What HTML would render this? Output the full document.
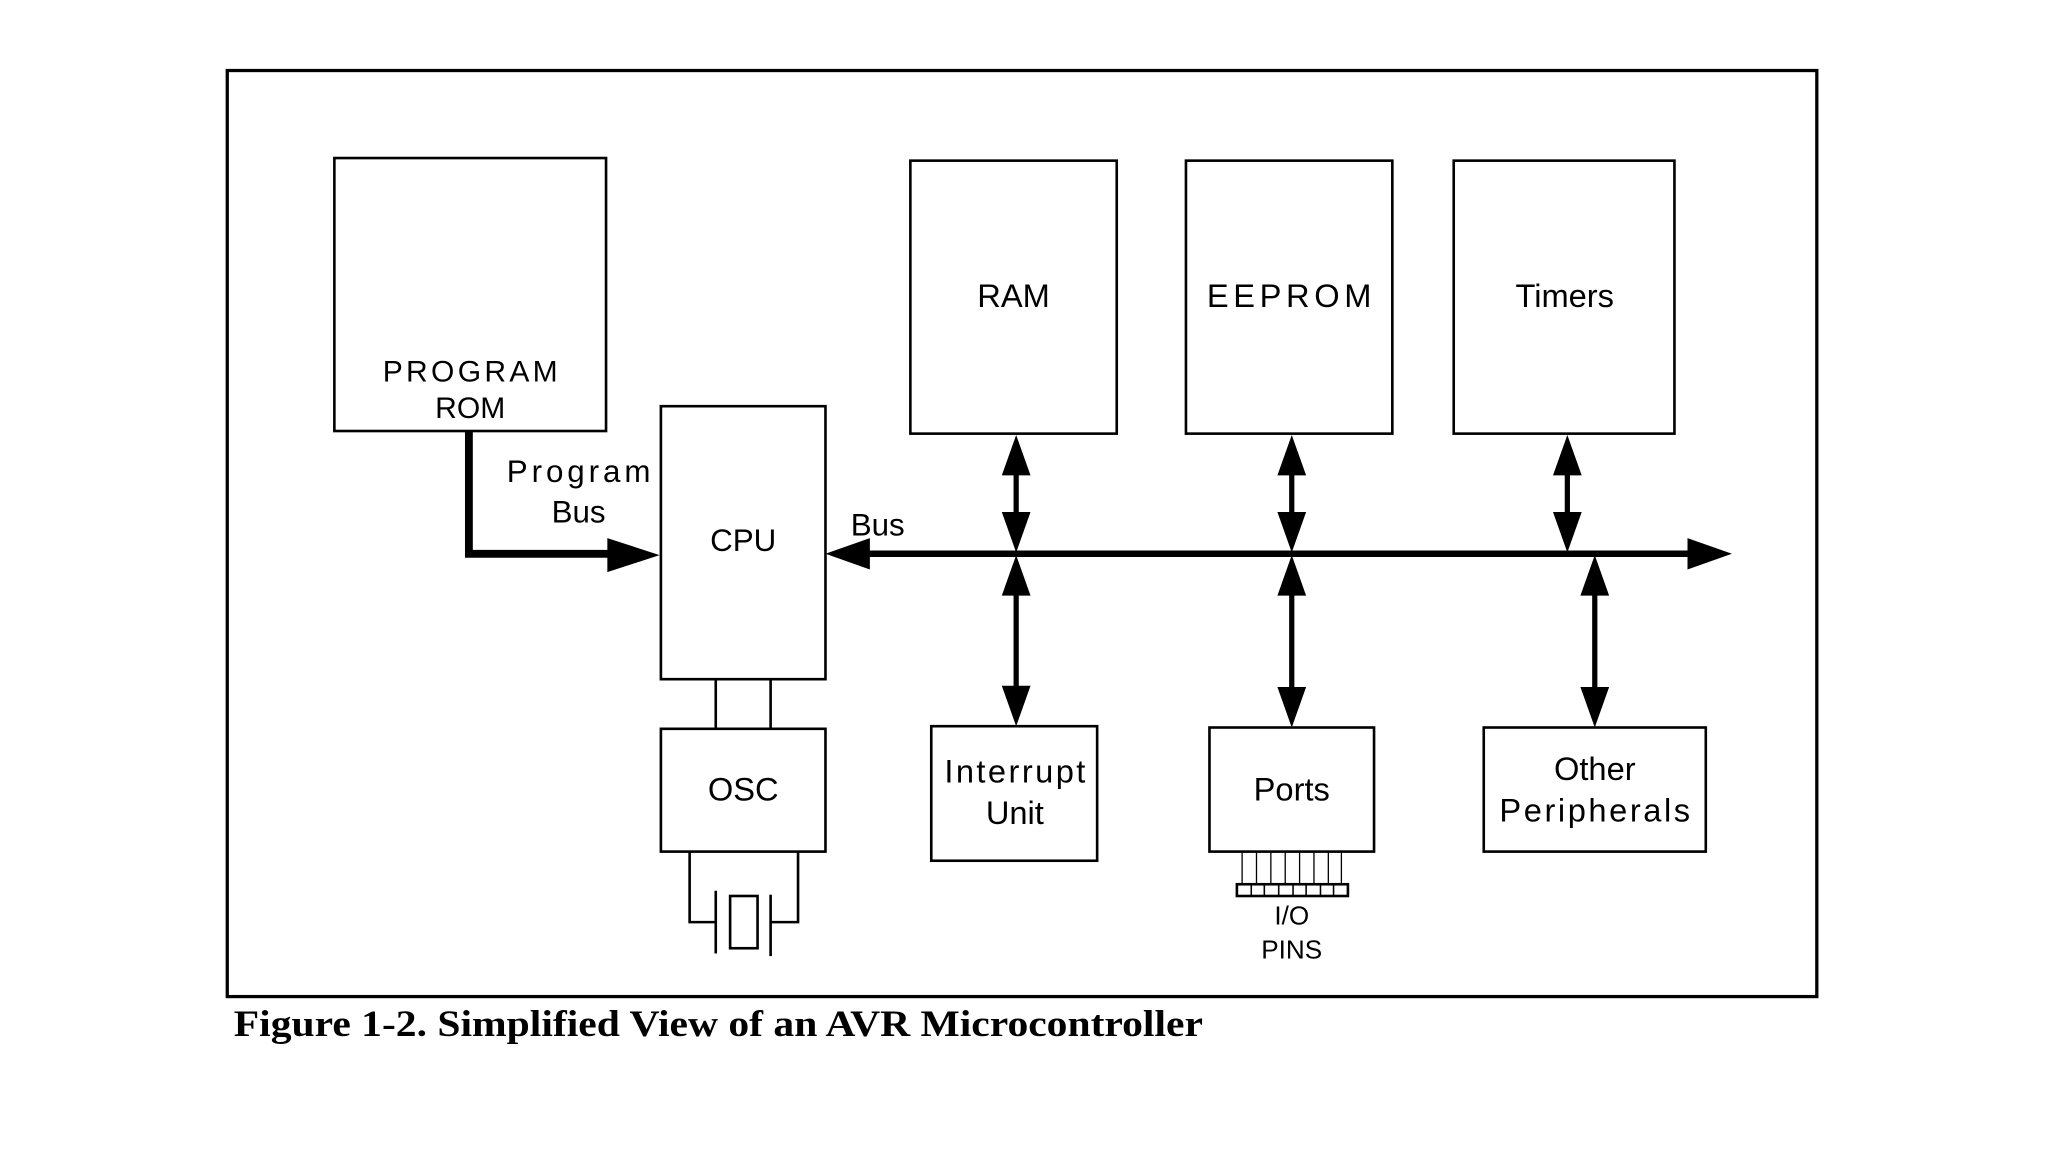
<!DOCTYPE html>
<html><head><meta charset="utf-8"><style>
html,body{margin:0;padding:0;background:#fff;}
svg{display:block;}
text{font-family:"Liberation Sans",sans-serif;fill:#000;}
</style></head><body>
<svg width="2048" height="1152" viewBox="0 0 1568 882" preserveAspectRatio="none" xmlns="http://www.w3.org/2000/svg">
<rect x="0" y="0" width="1568" height="882" fill="#fff"/>
<g fill="none" stroke="#000" stroke-width="2">
<rect x="174" y="54" width="1217" height="709" stroke-width="2.5"/>
<rect x="256" y="121" width="208" height="209"/>
<rect x="506" y="311" width="126" height="209"/>
<rect x="697" y="123" width="158" height="209"/>
<rect x="908" y="123" width="158" height="209"/>
<rect x="1113" y="123" width="169" height="209"/>
<rect x="506" y="558" width="126" height="94"/>
<rect x="713" y="556" width="127" height="103"/>
<rect x="926" y="557" width="126" height="95"/>
<rect x="1136" y="557" width="170" height="95"/>
<line x1="548" y1="520" x2="548" y2="558"/>
<line x1="590" y1="520" x2="590" y2="558"/>
<polyline points="528,652 528,706 548,706"/>
<polyline points="611,652 611,706 590,706"/>
<line x1="548" y1="682" x2="548" y2="730"/>
<line x1="590" y1="685" x2="590" y2="732"/>
<rect x="559" y="686" width="21" height="40"/>
<g stroke-width="1">
<line x1="951" y1="652" x2="951" y2="677"/><line x1="962" y1="652" x2="962" y2="677"/>
<line x1="973" y1="652" x2="973" y2="677"/><line x1="984" y1="652" x2="984" y2="677"/>
<line x1="995" y1="652" x2="995" y2="677"/><line x1="1006" y1="652" x2="1006" y2="677"/>
<line x1="1017" y1="652" x2="1017" y2="677"/><line x1="1027" y1="652" x2="1027" y2="677"/>
</g>
<rect x="947" y="677" width="85" height="9" stroke-width="2"/>
<g stroke-width="1.2">
<line x1="958" y1="677" x2="958" y2="686"/><line x1="968" y1="677" x2="968" y2="686"/>
<line x1="979" y1="677" x2="979" y2="686"/><line x1="990" y1="677" x2="990" y2="686"/>
<line x1="1000" y1="677" x2="1000" y2="686"/><line x1="1011" y1="677" x2="1011" y2="686"/>
<line x1="1021" y1="677" x2="1021" y2="686"/>
</g>
</g>
<g stroke="#000" fill="none">
<polyline points="359,330 359,424 470,424" stroke-width="6"/>
<line x1="660" y1="424" x2="1300" y2="424" stroke-width="5"/>
<g stroke-width="4">
<line x1="778" y1="355" x2="778" y2="400"/><line x1="778" y1="448" x2="778" y2="532"/>
<line x1="989" y1="355" x2="989" y2="400"/><line x1="989" y1="448" x2="989" y2="533"/>
<line x1="1200" y1="355" x2="1200" y2="400"/><line x1="1221" y1="448" x2="1221" y2="533"/>
</g>
</g>
<g fill="#000">
<polygon points="505,425 465,412 465,438"/>
<polygon points="632,424 666,412 666,436"/>
<polygon points="1326,424 1292,412 1292,436"/>
<polygon points="778,333 767,364 789,364"/><polygon points="778,423 767,392 789,392"/>
<polygon points="778,425 767,456 789,456"/><polygon points="778,556 767,525 789,525"/>
<polygon points="989,333 978,364 1000,364"/><polygon points="989,423 978,392 1000,392"/>
<polygon points="989,425 978,456 1000,456"/><polygon points="989,557 978,526 1000,526"/>
<polygon points="1200,333 1189,364 1211,364"/><polygon points="1200,423 1189,392 1211,392"/>
<polygon points="1221,425 1210,456 1232,456"/><polygon points="1221,557 1210,526 1232,526"/>
</g>
<g font-size="23" text-anchor="middle">
<text x="360" y="292" textLength="134">PROGRAM</text>
<text x="360" y="320">ROM</text>
<text x="443" y="369" font-size="24" textLength="110">Program</text>
<text x="443" y="400" font-size="24">Bus</text>
<text x="569" y="422" font-size="24">CPU</text>
<text x="672" y="410" font-size="24">Bus</text>
<text x="776" y="235" font-size="25">RAM</text>
<text x="987" y="235" font-size="25" textLength="126">EEPROM</text>
<text x="1198" y="235" font-size="25">Timers</text>
<text x="569" y="613" font-size="25">OSC</text>
<text x="777" y="599" font-size="25" textLength="108">Interrupt</text>
<text x="777" y="631" font-size="25">Unit</text>
<text x="989" y="613" font-size="25">Ports</text>
<text x="1221" y="597" font-size="25">Other</text>
<text x="1221" y="629" font-size="25" textLength="146">Peripherals</text>
<text x="989" y="708" font-size="20">I/O</text>
<text x="989" y="734" font-size="20">PINS</text>
</g>
<text x="179" y="793" font-weight="bold" font-size="28" textLength="742" lengthAdjust="spacingAndGlyphs" style="font-family:'Liberation Serif',serif">Figure 1-2. Simplified View of an AVR Microcontroller</text>
</svg>
</body></html>
